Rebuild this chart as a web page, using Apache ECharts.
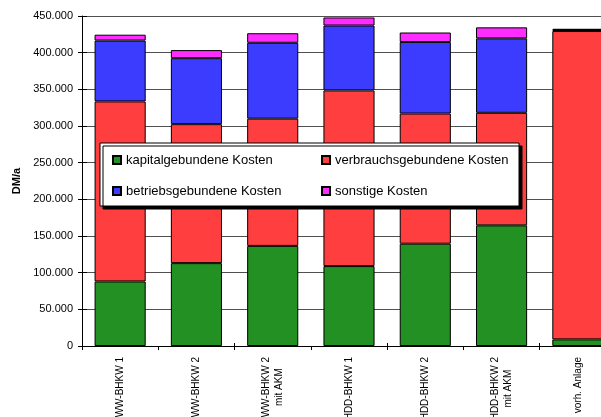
<!DOCTYPE html>
<html>
<head>
<meta charset="utf-8">
<script src="https://cdn.jsdelivr.net/npm/echarts@6/dist/echarts.min.js"></script>
<style>
html,body{margin:0;padding:0;background:#fff;}
#c{width:601px;height:417px;}
</style>
</head>
<body>
<div id="c"></div>
<script>
const categories = ['WW-BHKW 1', 'WW-BHKW 2', 'WW-BHKW 2\nmit AKM', 'HDD-BHKW 1', 'HDD-BHKW 2', 'HDD-BHKW 2\nmit AKM', 'vorh. Anlage'];
const seriesNames = ['kapitalgebundene Kosten', 'verbrauchsgebundene Kosten', 'betriebsgebundene Kosten', 'sonstige Kosten'];
const kapital = [88000, 113000, 136500, 109000, 139500, 164500, 9000];
const verbrauch = [245500, 189500, 173500, 239500, 177500, 153500, 420500];
const betrieb = [83000, 90000, 103500, 88500, 97500, 101500, 1500];
const sonstige = [8000, 11000, 13000, 11000, 13000, 15000, 1500];
const yTicks = [0, 50000, 100000, 150000, 200000, 250000, 300000, 350000, 400000, 450000];

const colors = ['#229022', '#ff3f3f', '#3c3cff', '#ff2cff'];
const values = [kapital, verbrauch, betrieb, sonstige];

function fmt(v) {
  if (v === 0) return '0';
  return String(v).replace(/\B(?=(\d{3})+(?!\d))/g, '.');
}

const chart = echarts.init(document.getElementById('c'));
const option = {
  animation: false,
  color: colors,
  textStyle: { fontFamily: 'Liberation Sans, Arial, sans-serif' },
  grid: { left: 82, top: 16, width: 534, height: 330, containLabel: false, outerBoundsMode: 'none' },
  legend: {
    left: 100, top: 143,
    orient: 'horizontal',
    width: 420,
    padding: [10, 6, 8, 12],
    itemWidth: 8, itemHeight: 8,
    itemGap: 17,
    icon: 'rect',
    backgroundColor: '#fff',
    borderColor: '#000',
    borderWidth: 1,
    shadowColor: '#000',
    shadowBlur: 0,
    shadowOffsetX: 3,
    shadowOffsetY: 3,
    textStyle: { fontSize: 13, color: '#000', width: 178, lineHeight: 14, fontFamily: 'Liberation Sans, Arial, sans-serif' },
    data: seriesNames
  },
  xAxis: [{
    type: 'category',
    data: categories,
    axisLine: { lineStyle: { color: '#000', width: 1 } },
    axisTick: { show: true, length: 4, lineStyle: { color: '#000' } },
    axisLabel: {
      interval: 0,
      rotate: 90,
      margin: 11,
      color: '#000',
      fontSize: 10,
      formatter: function (v) {
        return v.split('\n').map(function (s) { return '{c|' + s + '}'; }).join('\n');
      },
      rich: { c: { align: 'center', fontSize: 10, lineHeight: 12.5, color: '#000', fontFamily: 'Liberation Sans, Arial, sans-serif' } }
    }
  }, {
    type: 'category',
    data: categories,
    position: 'bottom',
    axisLine: { show: false },
    axisTick: { show: true, inside: true, length: 3, lineStyle: { color: '#000' } },
    axisLabel: { show: false }
  }],
  yAxis: [{
    type: 'value',
    min: yTicks[0],
    max: yTicks[yTicks.length - 1],
    interval: 50000,
    name: 'DM/a',
    nameLocation: 'middle',
    nameGap: 59,
    nameTextStyle: { fontSize: 11, fontWeight: 'bold', color: '#000' },
    axisLine: { show: true, lineStyle: { color: '#000', width: 1 } },
    axisTick: { show: true, length: 4, lineStyle: { color: '#000' } },
    axisLabel: { margin: 9, fontSize: 11, color: '#000', formatter: fmt },
    splitLine: { show: true, lineStyle: { color: '#505050', width: 1 } }
  }, {
    type: 'value',
    min: yTicks[0],
    max: yTicks[yTicks.length - 1],
    interval: 50000,
    position: 'left',
    axisLine: { show: false },
    axisTick: { show: true, inside: true, length: 5, lineStyle: { color: '#000' } },
    axisLabel: { show: false },
    splitLine: { show: false }
  }],
  series: seriesNames.map(function (name, i) {
    return {
      name: name,
      type: 'bar',
      stack: 'total',
      barWidth: '67%',
      data: values[i],
      itemStyle: { color: colors[i], borderColor: '#000', borderWidth: 1 }
    };
  })
};
chart.setOption(option);
</script>
</body>
</html>
